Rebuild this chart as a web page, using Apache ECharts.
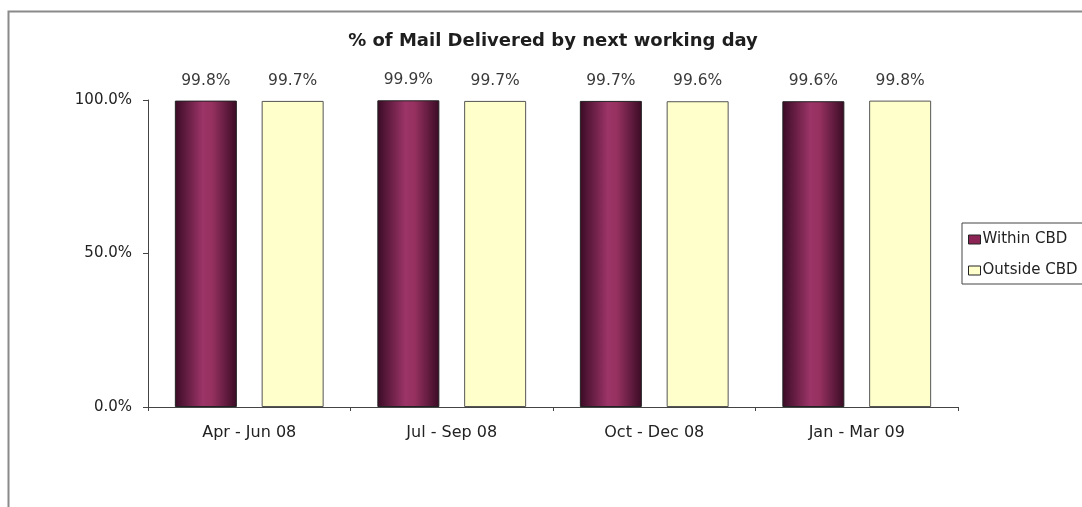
<!DOCTYPE html>
<html><head><meta charset="utf-8">
<script src="https://cdn.jsdelivr.net/npm/echarts@6/dist/echarts.min.js"></script>
<style>html,body{margin:0;padding:0;background:#fff}#c{width:1082px;height:507px}</style>
</head><body><div id="c"></div>
<script>
const categories = ['Apr - Jun 08', 'Jul - Sep 08', 'Oct - Dec 08', 'Jan - Mar 09'];
const withinCBD = [99.8, 99.9, 99.7, 99.6];
const outsideCBD = [99.7, 99.7, 99.6, 99.8];
const yTicks = [0, 50, 100];

const chart = echarts.init(document.getElementById('c'));
const font = 'DejaVu Sans, Verdana, sans-serif';
const purple = {
  type: 'linear', x: 0, y: 0, x2: 1, y2: 0,
  colorStops: [
    {offset: 0, color: '#3a0b25'},
    {offset: 0.45, color: '#9c3468'},
    {offset: 0.6, color: '#96315f'},
    {offset: 1, color: '#3a0b25'}
  ]
};
const lbl = {show: true, position: 'top', distance: 12, color: '#3a3a3a', fontSize: 15.5, fontFamily: font,
  formatter: p => p.value.toFixed(1) + '%'};
chart.setOption({
  animation: false,
  textStyle: {fontFamily: font},
  graphic: [{
    type: 'rect', shape: {x: 8.5, y: 11.5, width: 1200, height: 600},
    style: {fill: 'none', stroke: '#8a8a8a', lineWidth: 2}, silent: true
  }],
  title: {
    text: '% of Mail Delivered by next working day', left: 548, top: 27, textAlign: 'center',
    textStyle: {fontSize: 18, fontWeight: 'bold', color: '#1e1e1e', fontFamily: font}
  },
  legend: {
    orient: 'vertical', left: 962, top: 223, itemWidth: 12, itemHeight: 9, itemGap: 16,
    padding: [9, 40, 6, 6], borderColor: '#444', borderWidth: 1,
    textStyle: {fontSize: 15, color: '#222', fontFamily: font, padding: [0, 0, 0, -3]},
    data: [
      {name: 'Within CBD', icon: 'rect', itemStyle: {color: '#8b2455', borderColor: '#222', borderWidth: 1}},
      {name: 'Outside CBD', icon: 'rect', itemStyle: {color: '#ffffcc', borderColor: '#222', borderWidth: 1}}
    ]
  },
  grid: {left: 148, top: 100, right: 124, bottom: 100},
  xAxis: {
    type: 'category', data: categories,
    axisLine: {lineStyle: {color: '#444'}},
    axisTick: {show: true, length: 4, inside: false, lineStyle: {color: '#444'}},
    axisLabel: {color: '#222', fontSize: 16, margin: 18, fontFamily: font}
  },
  yAxis: {
    type: 'value', min: 0, max: 100, interval: 50,
    axisLine: {show: true, lineStyle: {color: '#444'}},
    axisTick: {show: true, length: 5, lineStyle: {color: '#444'}},
    splitLine: {show: false},
    axisLabel: {color: '#222', fontSize: 15, margin: 16, fontFamily: font,
      formatter: v => yTicks.includes(v) ? v.toFixed(1) + '%' : ''}
  },
  series: [
    {name: 'Within CBD', type: 'bar', data: withinCBD, barWidth: 62, barGap: '40%',
      itemStyle: {color: purple, borderColor: '#222', borderWidth: 1}, label: lbl},
    {name: 'Outside CBD', type: 'bar', data: outsideCBD, barWidth: 62,
      itemStyle: {color: '#ffffcc', borderColor: '#555', borderWidth: 1}, label: lbl}
  ]
});
</script></body></html>
